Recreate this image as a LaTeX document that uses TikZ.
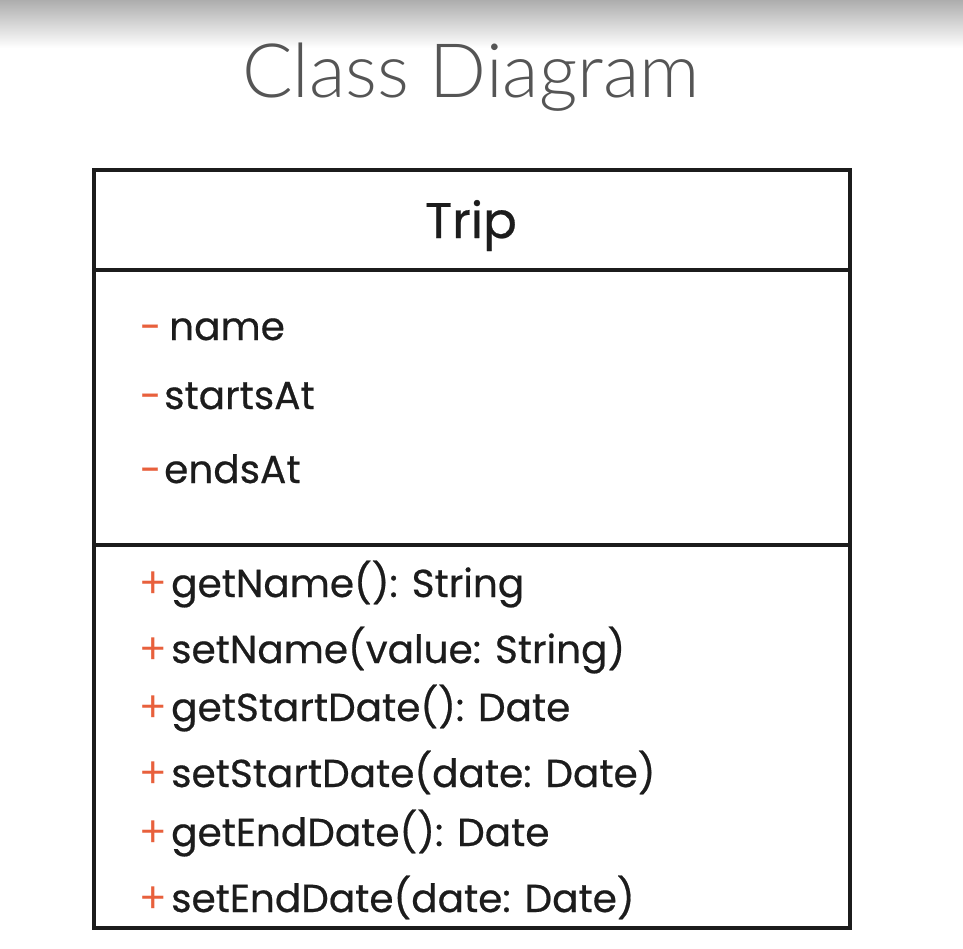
\documentclass[tikz,border=0pt]{standalone}
\usepackage{fontspec}
\setmainfont{Poppins}[FakeBold=0.5]
\newfontfamily\titlefont{Lato Light}
\newfontfamily\signfont{Lato}
\definecolor{umlorange}{HTML}{E8603C}
\definecolor{umlink}{HTML}{1C1C1C}
\definecolor{titlegray}{HTML}{555555}
\begin{document}
\begin{tikzpicture}[x=1pt,y=-1pt,
  txt/.style={inner sep=0pt, anchor=base west, text=umlink},
  attr/.style={txt, font=\fontsize{39}{44}\selectfont},
  meth/.style={txt, font=\fontsize{39}{44}\selectfont},
  sign/.style={inner sep=0pt, anchor=base west, text=umlorange},
  boxline/.style={line width=4pt, draw=umlink}]
\useasboundingbox (0,0) rectangle (963,948);
\fill[white] (0,0) rectangle (963,948);
\shade[top color=black!32, bottom color=white] (0,0) rectangle (963,48);
\node[inner sep=0pt, anchor=base, text=titlegray, font=\titlefont\fontsize{75}{80}\selectfont] (title) at (471,97) {Class Diagram};
% class box
\draw[boxline] (94,170) rectangle (850,928);
\coordinate (d1l) at (94,270); \coordinate (d1r) at (850,270);
\coordinate (d2l) at (94,545); \coordinate (d2r) at (850,545);
\draw[boxline] (d1l) -- (d1r);
\draw[boxline] (d2l) -- (d2r);
\node[inner sep=0pt, anchor=base, text=umlink, font=\fontsize{50}{56}\selectfont] (trip) at (471,238) {Trip};
% attributes
\node[sign, font=\fontsize{38}{40}\selectfont] (s1) at (140,340) {-};
\node[attr] (a1) at (169,340) {name};
\node[sign, font=\fontsize{38}{40}\selectfont] (s2) at (140,409) {-};
\node[attr] (a2) at (164,409) {startsAt};
\node[sign, font=\fontsize{38}{40}\selectfont] (s3) at (140,483) {-};
\node[attr] (a3) at (164,483) {endsAt};
% methods
\foreach \n/\y in {p1/597,p2/663,p3/721,p4/787,p5/846,p6/912}
  \node[sign, font=\signfont\fontsize{44}{48}\selectfont] (\n) at (140,\y) {+};
\node[meth] (m1) at (171,597) {getName(): String};
\node[meth] (m2) at (171,663) {setName(value: String)};
\node[meth] (m3) at (171,721) {getStartDate(): Date};
\node[meth] (m4) at (171,787) {setStartDate(date: Date)};
\node[meth] (m5) at (171,846) {getEndDate(): Date};
\node[meth] (m6) at (171,912) {setEndDate(date: Date)};
\end{tikzpicture}
\end{document}
